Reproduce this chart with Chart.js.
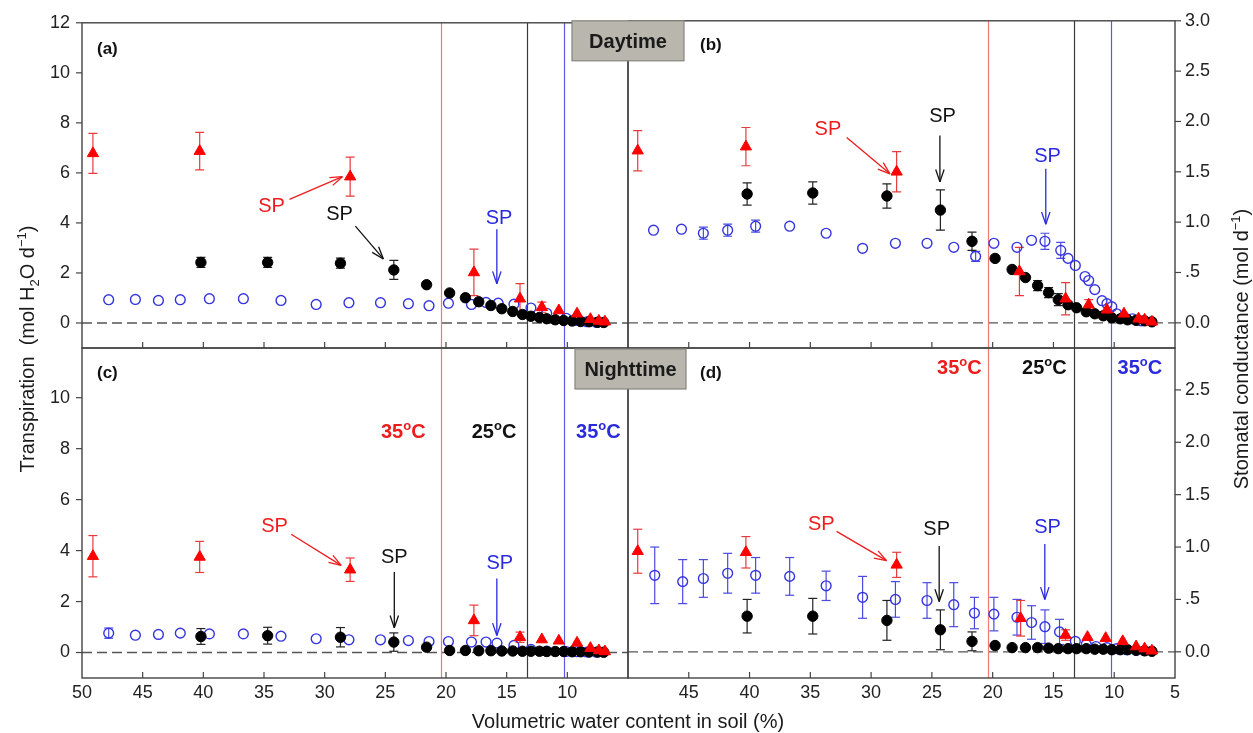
<!DOCTYPE html>
<html><head><meta charset="utf-8">
<script src="https://cdn.jsdelivr.net/npm/chart.js@4.4.0/dist/chart.umd.min.js"></script>
<style>
html,body{margin:0;padding:0;background:#fff;overflow:hidden;}
#wrap{position:relative;width:1253px;height:733px;background:#fff;}
canvas{position:absolute;left:0;top:0;}
</style></head>
<body><div id="wrap">
<canvas id="ca" width="1253" height="733"></canvas>
<canvas id="cb" width="1253" height="733"></canvas>
<canvas id="cc" width="1253" height="733"></canvas>
<canvas id="cd" width="1253" height="733"></canvas>
</div>
<script>
// ---------------- data ----------------
// tick values / labels
const xTickValues = [50,45,40,35,30,25,20,15,10,5];
const xLabelsLeft = [50,45,40,35,30,25,20,15,10];
const xLabelsRight = [45,40,35,30,25,20,15,10,5];
const transpTicksTop = [0,2,4,6,8,10,12];
const transpTicksBottom = [0,2,4,6,8,10];
const condTicksTop = [0,0.5,1,1.5,2,2.5,3];
const condTicksBottom = [0,0.5,1,1.5,2,2.5];
const condTickText = ['0.0','.5','1.0','1.5','2.0','2.5','3.0'];
// stress points (soil water content, %) : 35°C (red), 25°C (black), 35°C (blue)
const critSWC = [20.4, 13.35, 10.3];

// (a) daytime transpiration
const aRedX = [49.1, 40.3, 27.9, 17.7, 13.9, 12.1, 10.7, 9.2, 8.1, 7.4, 6.9];
const aRedY = [6.78, 6.87, 5.85, 2.02, 0.97, 0.63, 0.5, 0.37, 0.15, 0.08, 0.05];
const aRedE = [0.8, 0.75, 0.78, 0.93, 0.6, 0.2, 0.15, 0.1, 0.06, 0.04, 0.03];
const aBlackX = [40.2, 34.7, 28.7, 24.3, 21.6, 19.7, 18.4, 17.3, 16.3, 15.4, 14.5, 13.7, 13.0, 12.3, 11.7, 11.0, 10.3, 9.6, 8.9, 8.2, 7.5, 7.0];
const aBlackY = [2.42, 2.42, 2.39, 2.12, 1.53, 1.2, 1.01, 0.85, 0.7, 0.57, 0.46, 0.34, 0.27, 0.22, 0.17, 0.13, 0.1, 0.08, 0.06, 0.05, 0.03, 0.02];
const aBlackE = [0.2, 0.2, 0.2, 0.38, 0.15, 0.05, 0.05, 0.05, 0.04, 0.04, 0.03, 0.03, 0.03, 0.02, 0.02, 0.02, 0.02, 0.01, 0.01, 0.01, 0.01, 0.01];
const aBlueX = [47.8, 45.6, 43.7, 41.9, 39.5, 36.7, 33.6, 30.7, 28.0, 25.4, 23.1, 21.4, 19.8, 17.9, 16.7, 15.7, 14.4, 13.0, 11.7, 10.1, 9.2, 8.4, 7.6];
const aBlueY = [0.93, 0.94, 0.9, 0.93, 0.97, 0.97, 0.9, 0.74, 0.81, 0.81, 0.77, 0.69, 0.79, 0.74, 0.82, 0.79, 0.75, 0.6, 0.39, 0.19, 0.1, 0.05, 0.02];
const aBlueE = [0, 0, 0, 0, 0, 0, 0, 0, 0, 0, 0, 0, 0, 0, 0, 0, 0, 0, 0, 0, 0, 0, 0];

// (b) daytime stomatal conductance
const bRedX = [49.2, 40.3, 27.9, 17.8, 14.0, 12.1, 10.6, 9.2, 8.0, 7.5, 6.9];
const bRedY = [1.71, 1.75, 1.5, 0.51, 0.24, 0.18, 0.13, 0.09, 0.04, 0.03, 0.01];
const bRedE = [0.2, 0.19, 0.2, 0.24, 0.16, 0.05, 0.03, 0.02, 0.01, 0.01, 0.01];
const bBlackX = [40.2, 34.8, 28.7, 24.3, 21.7, 19.8, 18.4, 17.3, 16.3, 15.4, 14.6, 13.8, 13.1, 12.3, 11.6, 10.9, 10.2, 9.5, 8.9, 8.2, 7.5, 6.9];
const bBlackY = [1.28, 1.29, 1.26, 1.12, 0.81, 0.64, 0.53, 0.45, 0.37, 0.3, 0.23, 0.18, 0.15, 0.11, 0.09, 0.07, 0.05, 0.04, 0.03, 0.025, 0.02, 0.01];
const bBlackE = [0.11, 0.11, 0.12, 0.2, 0.09, 0.02, 0.02, 0.03, 0.05, 0.05, 0.06, 0.04, 0.03, 0.02, 0.02, 0.01, 0.01, 0.01, 0.01, 0.01, 0.01, 0.01];
const bBlueX = [47.9, 45.6, 43.8, 41.8, 39.5, 36.7, 33.7, 30.7, 28.0, 25.4, 23.2, 21.4, 19.9, 18.0, 16.8, 15.7, 14.4, 13.8, 13.2, 12.4, 12.1, 11.6, 11.0, 10.6, 10.2, 9.8, 9.2, 8.5, 7.8];
const bBlueY = [0.92, 0.93, 0.89, 0.92, 0.96, 0.96, 0.89, 0.74, 0.79, 0.79, 0.75, 0.66, 0.79, 0.75, 0.82, 0.81, 0.72, 0.64, 0.57, 0.46, 0.42, 0.33, 0.22, 0.19, 0.16, 0.09, 0.06, 0.04, 0.02];
const bBlueE = [0.03, 0.03, 0.06, 0.06, 0.06, 0.04, 0.04, 0, 0.04, 0.04, 0.04, 0.05, 0, 0, 0, 0.08, 0.08, 0.03, 0, 0.03, 0, 0.04, 0.04, 0.03, 0.03, 0.02, 0, 0, 0];

// (c) nighttime transpiration
const cRedX = [49.1, 40.3, 27.9, 17.7, 13.9, 12.1, 10.7, 9.2, 8.1, 7.4, 6.9];
const cRedY = [3.78, 3.75, 3.25, 1.26, 0.6, 0.51, 0.46, 0.38, 0.17, 0.08, 0.04];
const cRedE = [0.81, 0.61, 0.46, 0.6, 0.2, 0.05, 0.05, 0.05, 0.04, 0.03, 0.02];
const cBlackX = [40.2, 34.7, 28.7, 24.3, 21.6, 19.7, 18.4, 17.3, 16.3, 15.4, 14.5, 13.7, 13.0, 12.3, 11.7, 11.0, 10.3, 9.6, 8.9, 8.2, 7.5, 7.0];
const cBlackY = [0.63, 0.66, 0.6, 0.41, 0.21, 0.08, 0.08, 0.07, 0.07, 0.06, 0.06, 0.05, 0.05, 0.05, 0.04, 0.04, 0.04, 0.03, 0.03, 0.02, 0.02, 0.01];
const cBlackE = [0.31, 0.33, 0.38, 0.36, 0.05, 0.02, 0.02, 0.02, 0.02, 0.02, 0.02, 0.01, 0.01, 0.01, 0.01, 0.01, 0.01, 0.01, 0.01, 0.01, 0.01, 0.01];
const cBlueX = [47.8, 45.6, 43.7, 41.9, 39.5, 36.7, 33.6, 30.7, 28.0, 25.4, 23.1, 21.4, 19.8, 17.9, 16.7, 15.8, 14.4, 13.0, 11.7, 10.1, 9.2, 8.4, 7.6];
const cBlueY = [0.76, 0.68, 0.71, 0.76, 0.73, 0.73, 0.64, 0.54, 0.5, 0.5, 0.47, 0.43, 0.43, 0.41, 0.41, 0.37, 0.28, 0.12, 0.06, 0.04, 0.03, 0.02, 0.01];
const cBlueE = [0.2, 0.12, 0.08, 0.08, 0.08, 0.08, 0.05, 0.1, 0.05, 0.05, 0.08, 0.03, 0.03, 0.03, 0.03, 0.03, 0.03, 0.02, 0.01, 0.01, 0.01, 0.01, 0.01];

// (d) nighttime stomatal conductance
const dRedX = [49.2, 40.3, 27.9, 17.7, 14.0, 12.2, 10.7, 9.3, 8.2, 7.5, 6.9];
const dRedY = [0.96, 0.95, 0.83, 0.32, 0.16, 0.14, 0.13, 0.1, 0.05, 0.03, 0.01];
const dRedE = [0.21, 0.15, 0.12, 0.17, 0.05, 0.02, 0.02, 0.02, 0.01, 0.01, 0.01];
const dBlackX = [40.2, 34.8, 28.7, 24.3, 21.7, 19.8, 18.4, 17.3, 16.3, 15.4, 14.6, 13.8, 13.1, 12.3, 11.6, 10.9, 10.2, 9.5, 8.9, 8.2, 7.5, 6.9];
const dBlackY = [0.34, 0.34, 0.3, 0.21, 0.1, 0.06, 0.04, 0.04, 0.04, 0.035, 0.03, 0.03, 0.03, 0.03, 0.025, 0.025, 0.02, 0.02, 0.02, 0.015, 0.01, 0.005];
const dBlackE = [0.16, 0.17, 0.19, 0.19, 0.09, 0.01, 0.01, 0.01, 0.01, 0.01, 0.01, 0.01, 0.01, 0.01, 0.01, 0.01, 0.01, 0.01, 0.01, 0.01, 0.01, 0.01];
const dBlueX = [47.8, 45.5, 43.8, 41.8, 39.5, 36.7, 33.7, 30.7, 28.0, 25.4, 23.2, 21.5, 19.9, 18.0, 16.8, 15.7, 14.5, 13.2, 12.3, 11.5, 10.6, 9.8, 9.0, 8.2, 7.5];
const dBlueY = [0.73, 0.67, 0.7, 0.75, 0.73, 0.72, 0.63, 0.52, 0.5, 0.49, 0.45, 0.37, 0.36, 0.33, 0.28, 0.24, 0.19, 0.1, 0.07, 0.05, 0.04, 0.03, 0.02, 0.015, 0.01];
const dBlueE = [0.27, 0.21, 0.18, 0.19, 0.17, 0.18, 0.14, 0.2, 0.17, 0.17, 0.21, 0.15, 0.16, 0.17, 0.16, 0.16, 0.12, 0.03, 0.02, 0.01, 0.01, 0.01, 0.01, 0.01, 0.01];

// ---------------- styling ----------------
const W = 1253, H = 733;
const FONT = "'Liberation Sans', Arial, Helvetica, sans-serif";
const RED = '#ff0000', BLACK = '#000000', BLUE = '#3535e0';
const TXT = {red:'#ee1c1c', black:'#111111', blue:'#2a2ade'};
const CRIT_COLORS = ['#f27878', '#3a3a3a', '#5a5ae6'];
const ERR_COLORS = ['#e83a3a', '#222222', '#4a4ae0'];
const FRAME = '#444444';

function pts(xs, ys){ return xs.map((x,i)=>({x:x, y:ys[i]})); }

function drawRich(ctx, parts, cx, cy, size, weight, color, align){
  const small = Math.round(size*0.66);
  let w = 0;
  parts.forEach(p=>{ ctx.font = weight+' '+(p[1]?small:size)+'px '+FONT; w += ctx.measureText(p[0]).width; });
  let x = align==='left' ? cx : cx - w/2;
  ctx.fillStyle = color; ctx.textAlign = 'left'; ctx.textBaseline = 'alphabetic';
  const base = cy + size*0.358;
  parts.forEach(p=>{
    ctx.font = weight+' '+(p[1]?small:size)+'px '+FONT;
    const dy = p[1]===1 ? -size*0.40 : (p[1]===-1 ? size*0.22 : 0);
    ctx.fillText(p[0], x, base+dy);
    x += ctx.measureText(p[0]).width;
  });
}
function seg(ctx,x1,y1,x2,y2){ ctx.beginPath(); ctx.moveTo(x1,y1); ctx.lineTo(x2,y2); ctx.stroke(); }

// ---------------- panels ----------------
const panels = [
 { id:'ca', area:{l:82,t:20,r:628,b:348}, ySide:'left', yMin:-1, yMax:12, yTicks:transpTicksTop, yText:null, xLabels:null,
   red:[aRedX,aRedY,aRedE], black:[aBlackX,aBlackY,aBlackE], blue:[aBlueX,aBlueY,aBlueE],
   tag:'(a)', tagOff:[15,25],
   sp:[[34.38,4.74,'red'],[28.78,4.39,'black'],[15.63,4.23,'blue']],
   arrows:[[32.9,4.94,28.54,5.85,'red'],[27.47,3.87,25.16,2.56,'black'],[15.81,3.75,15.81,1.57,'blue']],
   temps:null, box:null },
 { id:'cb', area:{l:628,t:20,r:1175,b:348}, ySide:'right', yMin:-0.25, yMax:3.0, yTicks:condTicksTop, yText:condTickText, xLabels:null,
   red:[bRedX,bRedY,bRedE], black:[bBlackX,bBlackY,bBlackE], blue:[bBlueX,bBlueY,bBlueE],
   tag:'(b)', tagOff:[72,23],
   sp:[[33.55,1.94,'red'],[24.12,2.07,'black'],[15.49,1.67,'blue']],
   arrows:[[32.01,1.84,28.45,1.48,'red'],[24.34,1.86,24.34,1.40,'black'],[15.63,1.53,15.63,0.98,'blue']],
   temps:null, box:{text:'Daytime', dx:-56, w:112, h:40, dy:0} },
 { id:'cc', area:{l:82,t:348,r:628,b:678}, ySide:'left', yMin:-1, yMax:11.95, yTicks:transpTicksBottom, yText:null, xLabels:xLabelsLeft,
   red:[cRedX,cRedY,cRedE], black:[cBlackX,cBlackY,cBlackE], blue:[cBlueX,cBlueY,cBlueE],
   tag:'(c)', tagOff:[15,24],
   sp:[[34.13,5.02,'red'],[24.26,3.78,'black'],[15.57,3.55,'blue']],
   arrows:[[32.76,4.64,28.64,3.42,'red'],[24.26,3.16,24.26,0.97,'black'],[15.81,2.9,15.81,0.67,'blue']],
   temps:[[23.52,8.69,'red','35'],[16.04,8.69,'black','25'],[7.44,8.69,'blue','35']], box:null },
 { id:'cd', area:{l:628,t:348,r:1175,b:678}, ySide:'right', yMin:-0.25, yMax:2.9, yTicks:condTicksBottom, yText:condTickText, xLabels:xLabelsRight,
   red:[dRedX,dRedY,dRedE], black:[dBlackX,dBlackY,dBlackE], blue:[dBlueX,dBlueY,dBlueE],
   tag:'(d)', tagOff:[72,24],
   sp:[[34.1,1.23,'red'],[24.61,1.18,'black'],[15.49,1.2,'blue']],
   arrows:[[32.84,1.15,28.73,0.87,'red'],[24.4,1.01,24.4,0.48,'black'],[15.71,1.03,15.71,0.5,'blue']],
   temps:[[22.74,2.72,'red','35'],[15.75,2.72,'black','25'],[7.89,2.72,'blue','35']], box:{text:'Nighttime', dx:-53, w:111, h:40, dy:1} }
];

function makePlugin(P, isFirst){
  return {
    id:'deco_'+P.id,
    beforeDatasetsDraw(chart){
      const ctx = chart.ctx, a = chart.chartArea, x = chart.scales.x, y = chart.scales.y;
      ctx.save();
      ctx.beginPath(); ctx.rect(a.left, a.top, a.right-a.left, a.bottom-a.top); ctx.clip();
      // zero reference line
      const y0 = y.getPixelForValue(0);
      ctx.setLineDash([10,5]); ctx.strokeStyle = '#555'; ctx.lineWidth = 1.3;
      seg(ctx, a.left, y0, a.right, y0);
      ctx.setLineDash([]);
      // stress-point lines
      critSWC.forEach((v,i)=>{
        const px = Math.round(x.getPixelForValue(v))+0.5;
        ctx.strokeStyle = CRIT_COLORS[i]; ctx.lineWidth = 1.2;
        seg(ctx, px, a.top, px, a.bottom);
      });
      // error bars
      [P.blue, P.black, P.red].forEach((s,k)=>{
        const col = [ERR_COLORS[2], ERR_COLORS[1], ERR_COLORS[0]][k];
        ctx.strokeStyle = col; ctx.lineWidth = 1.2;
        s[0].forEach((xv,i)=>{
          const e = s[2][i]; if(!e) return;
          const px = x.getPixelForValue(xv);
          const yt = y.getPixelForValue(s[1][i]+e), yb = y.getPixelForValue(s[1][i]-e);
          if (yb-yt < 9) return;
          seg(ctx, px, yt, px, yb);
          seg(ctx, px-4.5, yt, px+4.5, yt);
          seg(ctx, px-4.5, yb, px+4.5, yb);
        });
      });
      ctx.restore();
    },
    afterDatasetsDraw(chart){
      const ctx = chart.ctx, a = chart.chartArea, x = chart.scales.x, y = chart.scales.y;
      ctx.save();
      // frame
      ctx.strokeStyle = FRAME; ctx.lineWidth = 1.4;
      ctx.strokeRect(a.left, a.top, a.right-a.left, a.bottom-a.top);
      // x tick marks (inside)
      ctx.lineWidth = 1.2;
      xTickValues.forEach(v=>{
        const px = x.getPixelForValue(v);
        if (px < a.left+2 || px > a.right-2) return;
        seg(ctx, px, a.bottom, px, a.bottom-6);
      });
      // y tick marks (outside)
      P.yTicks.forEach(v=>{
        const py = y.getPixelForValue(v);
        if (P.ySide==='left') seg(ctx, a.left-6, py, a.left, py);
        else seg(ctx, a.right, py, a.right+6, py);
      });
      // SP arrows
      P.arrows.forEach(ar=>{
        const x1 = x.getPixelForValue(ar[0]), y1 = y.getPixelForValue(ar[1]);
        const x2 = x.getPixelForValue(ar[2]), y2 = y.getPixelForValue(ar[3]);
        ctx.strokeStyle = TXT[ar[4]]; ctx.lineWidth = 1.3;
        seg(ctx, x1, y1, x2, y2);
        const ang = Math.atan2(y2-y1, x2-x1), L = 13, hw = 0.33;
        seg(ctx, x2, y2, x2 - L*Math.cos(ang-hw), y2 - L*Math.sin(ang-hw));
        seg(ctx, x2, y2, x2 - L*Math.cos(ang+hw), y2 - L*Math.sin(ang+hw));
      });
      // SP labels
      P.sp.forEach(s=>{
        drawRich(ctx, [['SP',0]], x.getPixelForValue(s[0]), y.getPixelForValue(s[1]), 20, 'normal', TXT[s[2]]);
      });
      // temperature labels
      if (P.temps) P.temps.forEach(t=>{
        drawRich(ctx, [[t[3],0],['o',1],['C',0]], x.getPixelForValue(t[0]), y.getPixelForValue(t[1]), 20, 'bold', TXT[t[2]]);
      });
      // panel tag
      drawRich(ctx, [[P.tag,0]], a.left+P.tagOff[0], a.top+P.tagOff[1], 17, 'bold', '#111', 'left');
      // day / night box
      if (P.box){
        const bx = a.left + P.box.dx, by = a.top + P.box.dy;
        ctx.fillStyle = '#b9b7ad'; ctx.fillRect(bx, by, P.box.w, P.box.h);
        ctx.strokeStyle = '#85847e'; ctx.lineWidth = 1.2; ctx.strokeRect(bx, by, P.box.w, P.box.h);
        drawRich(ctx, [[P.box.text,0]], bx+P.box.w/2, by+P.box.h/2, 20, 'bold', '#1a1a1a');
      }
      if (isFirst){
        // shared axis titles
        ctx.save(); ctx.translate(27, 349); ctx.rotate(-Math.PI/2);
        drawRich(ctx, [['Transpiration  (mol H',0],['2',-1],['O d',0],['\u22121',1],[')',0]], 0, 0, 20, 'normal', '#1a1a1a');
        ctx.restore();
        ctx.save(); ctx.translate(1241, 349); ctx.rotate(-Math.PI/2);
        drawRich(ctx, [['Stomatal conductance (mol d',0],['\u22121',1],[')',0]], 0, 0, 20, 'normal', '#1a1a1a');
        ctx.restore();
        drawRich(ctx, [['Volumetric water content in soil (%)',0]], 628, 721, 20, 'normal', '#1a1a1a');
      }
      ctx.restore();
    }
  };
}

function build(P, isFirst){
  const yW = 60, xH = P.xLabels ? 40 : 0;
  const pad = {
    left: P.ySide==='left' ? P.area.l - yW : P.area.l,
    right: P.ySide==='right' ? W - P.area.r - yW : W - P.area.r,
    top: P.area.t,
    bottom: H - P.area.b - xH
  };
  const tickFont = {family:FONT, size:18};
  return new Chart(document.getElementById(P.id), {
    type:'scatter',
    data:{ datasets:[
      {label:'35 °C (red)', data:pts(P.red[0],P.red[1]), pointStyle:'triangle', pointRadius:6.5, backgroundColor:RED, borderColor:RED, borderWidth:1},
      {label:'25 °C', data:pts(P.black[0],P.black[1]), pointStyle:'circle', pointRadius:5.2, backgroundColor:BLACK, borderColor:BLACK, borderWidth:1},
      {label:'35 °C (blue)', data:pts(P.blue[0],P.blue[1]), pointStyle:'circle', pointRadius:4.9, backgroundColor:'rgba(0,0,0,0)', borderColor:BLUE, borderWidth:1.4}
    ]},
    options:{
      responsive:false, animation:false, devicePixelRatio:1, events:[],
      layout:{ padding:pad, autoPadding:false },
      plugins:{ legend:{display:false}, tooltip:{enabled:false}, title:{display:false} },
      scales:{
        x:{ type:'linear', position:'bottom', reverse:true, min:5, max:50,
            afterBuildTicks:s=>{ s.ticks = (P.xLabels || xTickValues).map(v=>({value:v})); },
            afterFit:s=>{ s.height = xH; },
            grid:{display:false, drawTicks:false}, border:{display:false},
            ticks:{ display:!!P.xLabels, padding:4, color:'#222', font:tickFont, autoSkip:false, maxRotation:0, callback:v=>String(v) } },
        y:{ type:'linear', position:P.ySide, min:P.yMin, max:P.yMax,
            afterBuildTicks:s=>{ s.ticks = P.yTicks.map(v=>({value:v})); },
            afterFit:s=>{ s.width = yW; },
            grid:{display:false, drawTicks:false}, border:{display:false},
            ticks:{ padding: P.ySide==='left' ? 12 : 10, color:'#222', font:tickFont, autoSkip:false,
                    callback:v=> P.yText ? P.yText[condTicksTop.indexOf(v)] : String(v) } }
      }
    },
    plugins:[makePlugin(P, isFirst)]
  });
}

panels.forEach((P,i)=>build(P, i===0));
</script>
</body></html>
